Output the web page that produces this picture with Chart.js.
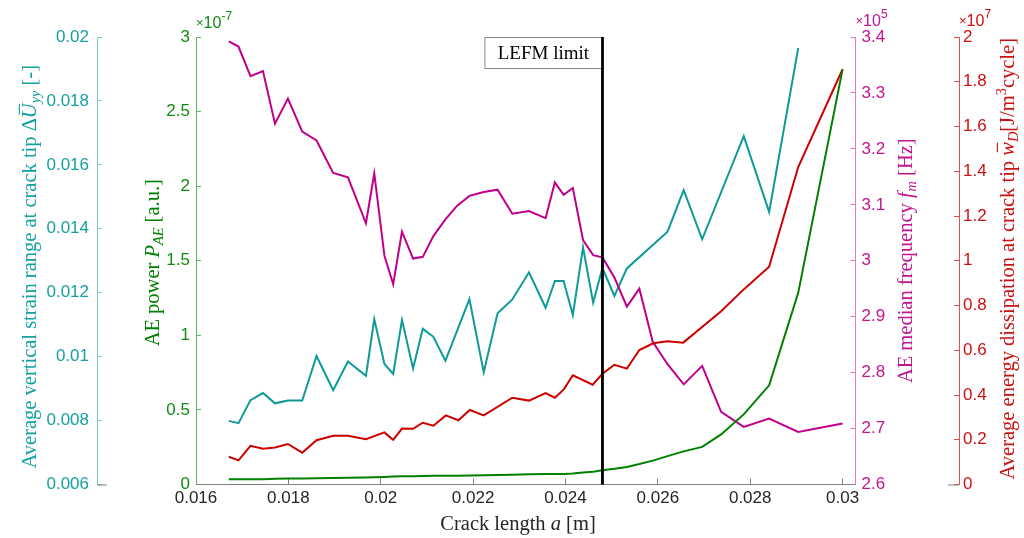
<!DOCTYPE html>
<html>
<head>
<meta charset="utf-8">
<script src="https://cdn.jsdelivr.net/npm/chart.js@4/dist/chart.umd.min.js"></script>
<style>
  html, body { margin: 0; padding: 0; background: #fff; }
  #wrap { width: 1024px; height: 538px; }
</style>
</head>
<body>
<div id="wrap"><canvas id="c" width="1024" height="538"></canvas></div>
<script>
// ---- data ---------------------------------------------------------------
// crack length a [m]
const crackTicks = [0.016, 0.018, 0.020, 0.022, 0.024, 0.026, 0.028, 0.030];
const xMin = 0.016, xMax = 0.03028;

// acoustic emission measurements (power and median frequency share crack lengths)
const aeCrack = [0.01671,0.01692,0.01718,0.01745,0.01771,0.01799,0.01830,0.01861,0.01897,0.01929,
                 0.01968,0.01986,0.02008,0.02027,0.02046,0.02070,0.02091,0.02114,0.02140,0.02165,
                 0.02192,0.02223,0.02253,0.02285,0.02321,0.02357,0.02377,0.02396,0.02416,0.02438,
                 0.02460,0.02480,0.02506,0.02533,0.02560,0.02589,0.02621,0.02656,0.02696,0.02737,
                 0.02786,0.02841,0.02904,0.03000];
// AE power, units of 1e-7 a.u.
const aePower = [0.035,0.035,0.036,0.036,0.038,0.040,0.041,0.042,0.043,0.045,
                 0.047,0.048,0.050,0.053,0.055,0.055,0.057,0.058,0.058,0.059,
                 0.060,0.062,0.063,0.066,0.068,0.070,0.071,0.071,0.074,0.080,
                 0.086,0.096,0.105,0.118,0.137,0.160,0.190,0.222,0.252,0.336,
                 0.470,0.665,1.285,2.783];
// AE median frequency, units of 1e5 Hz
const aeFreq = [3.392,3.383,3.330,3.339,3.245,3.290,3.231,3.215,3.157,3.149,
                3.067,3.156,3.009,2.958,3.052,3.004,3.007,3.044,3.074,3.098,
                3.116,3.123,3.127,3.084,3.089,3.076,3.140,3.118,3.130,3.037,
                3.010,3.006,2.970,2.918,2.950,2.855,2.815,2.779,2.812,2.730,
                2.703,2.718,2.694,2.709];

// simulated vertical strain range at the crack tip [-]
const strainCrack = [0.01671,0.01692,0.01718,0.01745,0.01771,0.01799,0.01830,0.01861,0.01897,0.01929,
                     0.01968,0.01986,0.02008,0.02027,0.02046,0.02070,0.02091,0.02114,0.02140,0.02192,
                     0.02223,0.02253,0.02285,0.02321,0.02357,0.02377,0.02396,0.02416,0.02438,0.02460,
                     0.02480,0.02506,0.02533,0.02621,0.02656,0.02696,0.02786,0.02841,0.02904];
const strainRange = [0.00799,0.00792,0.00864,0.00886,0.00854,0.00863,0.00863,0.01002,0.00895,0.00985,
                     0.00940,0.01117,0.00977,0.00946,0.01115,0.00963,0.01087,0.01062,0.00987,0.01180,
                     0.00951,0.01136,0.01179,0.01264,0.01153,0.01237,0.01237,0.01130,0.01342,0.01169,
                     0.01277,0.01190,0.01276,0.01391,0.01521,0.01367,0.01690,0.01453,0.01965];

// simulated energy dissipation at the crack tip, units of 1e7 J/m^3/cycle
const dissCrack = [0.01671,0.01692,0.01718,0.01745,0.01771,0.01799,0.01830,0.01861,0.01897,0.01929,
                   0.01968,0.02008,0.02027,0.02046,0.02070,0.02091,0.02114,0.02141,0.02168,0.02193,
                   0.02223,0.02285,0.02321,0.02357,0.02377,0.02396,0.02416,0.02459,0.02480,0.02506,
                   0.02533,0.02560,0.02590,0.02621,0.02655,0.02737,0.02786,0.02841,0.02904,0.03000];
const dissipation = [0.124,0.108,0.173,0.160,0.165,0.181,0.142,0.198,0.218,0.218,
                     0.202,0.233,0.200,0.250,0.249,0.276,0.263,0.309,0.287,0.333,
                     0.309,0.388,0.375,0.409,0.388,0.424,0.488,0.446,0.495,0.535,
                     0.518,0.601,0.631,0.640,0.634,0.774,0.872,0.973,1.419,1.856];

// LEFM validity limit [m]
const lefmCrack = 0.0248;

// axis tick values
const strainTicks = [0.006,0.008,0.010,0.012,0.014,0.016,0.018,0.020];
const powerTicks  = [0,0.5,1,1.5,2,2.5,3];
const freqTicks   = [2.6,2.7,2.8,2.9,3.0,3.1,3.2,3.3,3.4];
const dissTicks   = [0,0.2,0.4,0.6,0.8,1.0,1.2,1.4,1.6,1.8,2.0];

// ---- styling --------------------------------------------------------------
const SANS  = '"Liberation Sans", Arial, Helvetica, sans-serif';
const SERIF = '"Liberation Serif", "Times New Roman", serif';
const TEAL = '#0f9a9a', TEAL_AX = '#7fcccc', TEAL_TX = '#16a0a0';
const GREEN = '#008000', GREEN_AX = '#5fb35f', GREEN_TX = '#138a13';
const MAG = '#c0008c', MAG_AX = '#e07cc4', MAG_TX = '#c3148f';
const RED = '#cc0000', RED_AX = '#dd5050', RED_TX = '#cc1010';
const GREY = '#808080';
const TICK_PX = 17;
const TITLE_PX = 20.5;

const fmt = v => String(parseFloat(Number(v).toFixed(4)));
const pts = (xs, ys) => xs.map((x, i) => ({ x, y: ys[i] }));

function yAxis(position, min, max, ticks, axColor, txColor, width, weight, pad) {
  return {
    type: 'linear', position, min, max, weight,
    afterBuildTicks: s => { s.ticks = ticks.map(v => ({ value: v })); },
    afterFit: s => { s.width = width; },
    ticks: { callback: fmt, color: txColor, font: { family: SANS, size: TICK_PX }, padding: pad },
    grid: { drawOnChartArea: false, tickLength: -5, color: axColor, lineWidth: 1 },
    border: { display: true, color: axColor, width: 1 }
  };
}

// mixed-font text (roman / italic / sub- and superscripts / overbar)
function drawRich(ctx, segs, x, y, size, color, vertical) {
  ctx.save();
  ctx.translate(x, y);
  if (vertical) ctx.rotate(-Math.PI / 2);
  let total = 0;
  const items = segs.map(s => {
    const sz = size * (s.scale || 1);
    const font = (s.italic ? 'italic ' : '') + sz + 'px ' + (s.font || SERIF);
    ctx.font = font;
    const w = ctx.measureText(s.t).width + (s.gap || 0);
    total += w;
    return { s, font, w };
  });
  let cx = -total / 2;
  const base = size * 0.33;
  ctx.fillStyle = color;
  ctx.strokeStyle = color;
  ctx.textAlign = 'left';
  ctx.textBaseline = 'alphabetic';
  for (const it of items) {
    ctx.font = it.font;
    const dy = (it.s.dy || 0) * size;
    ctx.fillText(it.s.t, cx, base + dy);
    if (it.s.bar) {
      ctx.lineWidth = Math.max(1, size * 0.055);
      ctx.beginPath();
      ctx.moveTo(cx + it.w * 0.25, base + dy - size * 0.8);
      ctx.lineTo(cx + it.w * 0.95, base + dy - size * 0.8);
      ctx.stroke();
    }
    cx += it.w;
  }
  ctx.restore();
}

function drawExponent(ctx, x, y, exp, color) {
  ctx.save();
  ctx.fillStyle = color;
  ctx.textAlign = 'left';
  ctx.textBaseline = 'alphabetic';
  ctx.font = '13px ' + SANS;
  ctx.fillText('\u00d7', x, y - 1);
  let cx = x + ctx.measureText('\u00d7').width;
  ctx.font = '16px ' + SANS;
  ctx.fillText('10', cx, y);
  cx += ctx.measureText('10').width;
  ctx.font = '12px ' + SANS;
  ctx.fillText(exp, cx, y - 8);
  ctx.restore();
}

const decorations = {
  id: 'decorations',
  afterDatasetsDraw(chart) {
    const { ctx, scales } = chart;
    const { x, yStrain, yPower, yFreq, yDiss } = scales;
    const area = chart.chartArea;

    // short spines at the foot of the outer axes
    ctx.save();
    ctx.strokeStyle = GREY;
    ctx.lineWidth = 1;
    ctx.beginPath();
    ctx.moveTo(yStrain.right, area.bottom + 0.5); ctx.lineTo(yStrain.right + 10, area.bottom + 0.5);
    ctx.moveTo(yDiss.left - 11, area.bottom + 0.5); ctx.lineTo(yDiss.left, area.bottom + 0.5);
    ctx.stroke();

    // LEFM limit label box, right edge on the limit line
    const bx1 = x.getPixelForValue(lefmCrack);
    const bx0 = bx1 - 118, by0 = area.top, by1 = area.top + 32;
    ctx.fillStyle = '#fff';
    ctx.fillRect(bx0, by0, bx1 - bx0, by1 - by0);
    ctx.strokeStyle = '#8a8a8a';
    ctx.strokeRect(bx0 + 0.5, by0 + 0.5, bx1 - bx0 - 1, by1 - by0 - 1);
    ctx.restore();
    drawRich(ctx, [{ t: 'LEFM limit' }], (bx0 + bx1) / 2, (by0 + by1) / 2, 19, '#000', false);
    // redraw the limit line over the box edge
    ctx.save();
    ctx.strokeStyle = '#000';
    ctx.lineWidth = 2.5;
    ctx.beginPath();
    ctx.moveTo(bx1, area.top); ctx.lineTo(bx1, area.bottom);
    ctx.stroke();
    ctx.restore();

    // axis titles
    const cy = (area.top + area.bottom) / 2;
    drawRich(ctx, [
      { t: 'Average vertical strain range at crack tip ' },
      { t: '\u0394' },
      { t: 'U', italic: true, bar: true },
      { t: 'yy', italic: true, scale: 0.7, dy: 0.22 },
      { t: ' [-]' }
    ], 29, cy + 6, TITLE_PX, TEAL_TX, true);
    drawRich(ctx, [
      { t: 'AE power ' },
      { t: 'P', italic: true },
      { t: 'AE', italic: true, scale: 0.7, dy: 0.22 },
      { t: ' [a.u.]' }
    ], 152, cy + 2, TITLE_PX, GREEN, true);
    drawRich(ctx, [
      { t: 'AE median frequency ' },
      { t: 'f', italic: true, gap: 1 },
      { t: 'm', italic: true, scale: 0.7, dy: 0.22 },
      { t: ' [Hz]' }
    ], 905, cy, TITLE_PX, MAG_TX, true);
    drawRich(ctx, [
      { t: 'Average energy dissipation at crack tip ' },
      { t: 'w', italic: true, bar: true },
      { t: 'D', italic: true, scale: 0.7, dy: 0.22 },
      { t: '[J/m' },
      { t: '3', scale: 0.7, dy: -0.38 },
      { t: 'cycle]' }
    ], 1007, cy - 2, TITLE_PX, RED_TX, true);
    drawRich(ctx, [
      { t: 'Crack length ' },
      { t: 'a', italic: true },
      { t: ' [m]' }
    ], 518, 523, TITLE_PX, '#262626', false);

    // scale exponents
    drawExponent(ctx, yPower.right + 0, 28, '-7', GREEN_TX);
    drawExponent(ctx, yFreq.left + 0, 26, '5', MAG_TX);
    drawExponent(ctx, yDiss.left + 0, 26, '7', RED_TX);
  }
};

new Chart(document.getElementById('c'), {
  type: 'line',
  data: {
    datasets: [
      { label: 'LEFM limit', data: [{ x: lefmCrack, y: 0 }, { x: lefmCrack, y: 3 }],
        yAxisID: 'yPower', borderColor: '#000', borderWidth: 2.5 },
      { label: 'AE power', data: pts(aeCrack, aePower), yAxisID: 'yPower', borderColor: GREEN },
      { label: 'Energy dissipation', data: pts(dissCrack, dissipation), yAxisID: 'yDiss', borderColor: RED },
      { label: 'AE median frequency', data: pts(aeCrack, aeFreq), yAxisID: 'yFreq', borderColor: MAG },
      { label: 'Strain range', data: pts(strainCrack, strainRange), yAxisID: 'yStrain', borderColor: TEAL }
    ]
  },
  options: {
    responsive: false,
    devicePixelRatio: 1,
    animation: false,
    events: [],
    layout: { padding: { top: 37, left: 0, right: 0, bottom: 0 } },
    elements: {
      line: { tension: 0, borderWidth: 2, fill: false },
      point: { radius: 0 }
    },
    plugins: { legend: { display: false }, tooltip: { enabled: false } },
    scales: {
      x: {
        type: 'linear', position: 'bottom', min: xMin, max: xMax,
        afterBuildTicks: s => { s.ticks = crackTicks.map(v => ({ value: v })); },
        afterFit: s => { s.height = 53.5; },
        ticks: { callback: fmt, color: '#262626', font: { family: SANS, size: TICK_PX },
                 padding: 10, maxRotation: 0, autoSkip: false },
        grid: { drawOnChartArea: false, tickLength: -6, color: GREY, lineWidth: 1 },
        border: { display: true, color: GREY, width: 1 }
      },
      yPower:  yAxis('left',  0,     3,    powerTicks,  GREEN_AX, GREEN_TX, 99,    0, 11),
      yStrain: yAxis('left',  0.006, 0.02, strainTicks, TEAL_AX,  TEAL_TX,  97,    1, 13),
      yFreq:   yAxis('right', 2.6,   3.4,  freqTicks,   MAG_AX,   MAG_TX,   103.5, 0, 11),
      yDiss:   yAxis('right', 0,     2,    dissTicks,   RED_AX,   RED_TX,   65,    1, 9)
    }
  },
  plugins: [decorations]
});
</script>
</body>
</html>
